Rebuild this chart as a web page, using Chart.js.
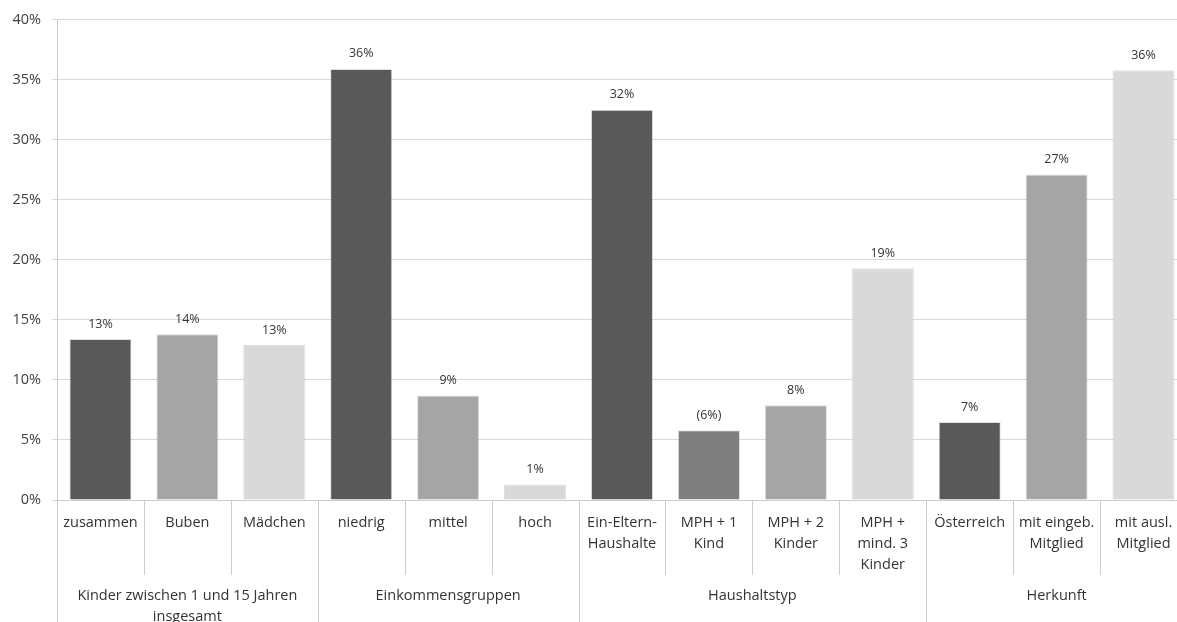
<!DOCTYPE html>
<html lang="de">
<head>
<meta charset="UTF-8">
<title>Kinder zwischen 1 und 15 Jahren</title>
<script src="https://cdn.jsdelivr.net/npm/chart.js"></script>
<style>
  body { margin: 0; background: #fff; }
  #wrap { width: 1177px; height: 622px; overflow: hidden; }
</style>
</head>
<body>
<div id="wrap">
  <canvas id="chart" width="1190" height="622"></canvas>
</div>
<script>
// Kategorien (mehrzeilig) und Werte in %
var categories = [
    ['zusammen'], ['Buben'], ['Mädchen'],
    ['niedrig'], ['mittel'], ['hoch'],
    ['Ein-Eltern-', 'Haushalte'], ['MPH + 1', 'Kind'], ['MPH + 2', 'Kinder'], ['MPH +', 'mind. 3', 'Kinder'],
    ['Österreich'], ['mit eingeb.', 'Mitglied'], ['mit ausl.', 'Mitglied']
];
var values = [13.4, 13.8, 12.9, 35.9, 8.7, 1.3, 32.5, 5.8, 7.9, 19.3, 6.5, 27.1, 35.8];
var valueLabels = ['13%', '14%', '13%', '36%', '9%', '1%', '32%', '(6%)', '8%', '19%', '7%', '27%', '36%'];
var barColors = ['#595959', '#a5a5a5', '#d9d9d9',
                 '#595959', '#a5a5a5', '#d9d9d9',
                 '#595959', '#7f7f7f', '#a5a5a5', '#d9d9d9',
                 '#595959', '#a5a5a5', '#d9d9d9'];

// Gruppen: Name (Zeilen), erster und letzter Index
var groupNames = [['Kinder zwischen 1 und 15 Jahren', 'insgesamt'], ['Einkommensgruppen'], ['Haushaltstyp'], ['Herkunft']];
var groupStart = [0, 3, 6, 10];
var groupEnd = [2, 5, 9, 12];

var yTicks = [0, 5, 10, 15, 20, 25, 30, 35, 40];

Chart.defaults.font.family = "'Open Sans', sans-serif";

// Werte über den Balken
var valueLabelPlugin = {
    id: 'valueLabels',
    afterDatasetsDraw: function (chart) {
        var ctx = chart.ctx;
        var meta = chart.getDatasetMeta(0);
        ctx.save();
        ctx.font = "12.5px 'Open Sans', sans-serif";
        ctx.fillStyle = '#333333';
        ctx.textAlign = 'center';
        ctx.textBaseline = 'middle';
        meta.data.forEach(function (bar, i) {
            ctx.fillText(valueLabels[i], bar.x, bar.y - 15);
        });
        ctx.restore();
    }
};

// Trennlinien und Gruppenbeschriftung unter der Achse
var groupAxisPlugin = {
    id: 'groupAxis',
    afterDraw: function (chart) {
        var ctx = chart.ctx;
        var x = chart.scales.x;
        var area = chart.chartArea;
        var step = x.getPixelForValue(1) - x.getPixelForValue(0);
        var edge = function (i) { return x.getPixelForValue(i) - step / 2; };
        ctx.save();
        ctx.strokeStyle = '#cccccc';
        ctx.lineWidth = 1;
        for (var i = 1; i < categories.length; i++) {
            if (groupStart.indexOf(i) >= 0) continue;
            var px = Math.round(edge(i)) + 0.5;
            ctx.beginPath();
            ctx.moveTo(px, area.bottom);
            ctx.lineTo(px, area.bottom + 75);
            ctx.stroke();
        }
        groupStart.concat([categories.length]).forEach(function (i) {
            var px = Math.round(edge(i)) + 0.5;
            ctx.beginPath();
            ctx.moveTo(px, area.bottom);
            ctx.lineTo(px, chart.height);
            ctx.stroke();
        });
        ctx.font = "14.5px 'Open Sans', sans-serif";
        ctx.fillStyle = '#333333';
        ctx.textAlign = 'center';
        ctx.textBaseline = 'middle';
        groupNames.forEach(function (lines, g) {
            var cx = (edge(groupStart[g]) + edge(groupEnd[g] + 1)) / 2;
            lines.forEach(function (t, k) {
                ctx.fillText(t, cx, area.bottom + 96 + k * 21);
            });
        });
        ctx.restore();
    }
};

new Chart(document.getElementById('chart'), {
    type: 'bar',
    data: {
        labels: categories,
        datasets: [{
            data: values,
            backgroundColor: barColors,
            borderColor: 'rgba(0,0,0,0.12)',
            borderWidth: 1,
            categoryPercentage: 1,
            barPercentage: 0.715
        }]
    },
    options: {
        responsive: false,
        animation: false,
        layout: { padding: { top: 18, right: 3, left: 0, bottom: 0 } },
        plugins: { legend: { display: false }, tooltip: { enabled: false } },
        scales: {
            x: {
                offset: true,
                grid: { display: false },
                border: { color: '#cccccc' },
                ticks: {
                    color: '#333333',
                    font: { size: 14.5, lineHeight: 1.45 },
                    padding: 4,
                    maxRotation: 0,
                    autoSkip: false
                },
                afterFit: function (scale) { scale.height = 122; }
            },
            y: {
                min: 0,
                max: 40,
                afterBuildTicks: function (scale) {
                    scale.ticks = yTicks.map(function (v) { return { value: v }; });
                },
                grid: { color: '#d9d9d9', tickLength: 5 },
                border: { color: '#c8c8c8' },
                ticks: {
                    color: '#404040',
                    font: { size: 14.5 },
                    padding: 11,
                    callback: function (v) { return v + '%'; }
                },
                afterFit: function (scale) { scale.width = 57; }
            }
        }
    },
    plugins: [valueLabelPlugin, groupAxisPlugin]
});
</script>
</body>
</html>
